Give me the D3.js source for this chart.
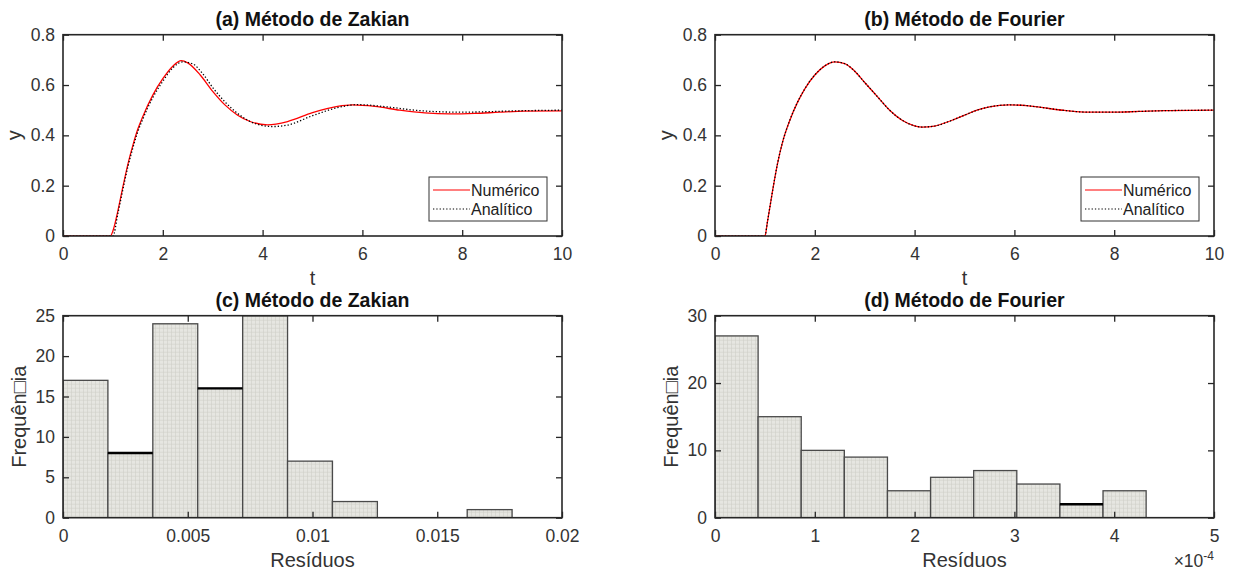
<!DOCTYPE html>
<html>
<head>
<meta charset="utf-8">
<script src="https://cdn.jsdelivr.net/npm/d3@7"></script>
<style>
  html, body { margin: 0; padding: 0; background: #fff; }
  svg { display: block; font-family: "Liberation Sans", Arial, Helvetica, sans-serif; }
</style>
</head>
<body>
<script>
// step response
const tZakianNum = [0, 0.5, 0.95, 1.0, 1.1, 1.2, 1.3, 1.4, 1.5, 1.6, 1.8, 2.0, 2.2, 2.37, 2.5, 2.75, 3.0, 3.25, 3.5, 3.75, 4.1, 4.5, 5.0, 5.5, 5.8, 6.25, 6.75, 7.25, 7.75, 8.25, 8.75, 9.25, 10];
const yZakianNum = [0, 0, 0, 0.02, 0.1, 0.195, 0.285, 0.36, 0.425, 0.475, 0.56, 0.625, 0.675, 0.697, 0.688, 0.64, 0.575, 0.52, 0.48, 0.455, 0.442, 0.455, 0.49, 0.515, 0.521, 0.515, 0.5, 0.489, 0.485, 0.487, 0.492, 0.496, 0.497];
const tZakianAna = [0, 0.5, 1.0, 1.1, 1.2, 1.3, 1.4, 1.5, 1.6, 1.8, 2.0, 2.2, 2.4, 2.6, 2.8, 3.0, 3.25, 3.5, 3.75, 4.0, 4.2, 4.5, 5.0, 5.5, 5.9, 6.5, 7.0, 7.5, 8.0, 8.5, 9.0, 10];
const yZakianAna = [0, 0, 0, 0.09, 0.185, 0.275, 0.35, 0.415, 0.465, 0.55, 0.615, 0.668, 0.692, 0.684, 0.645, 0.59, 0.532, 0.487, 0.455, 0.439, 0.435, 0.441, 0.478, 0.51, 0.522, 0.513, 0.501, 0.494, 0.492, 0.494, 0.497, 0.5];

// panel (b): both curves overlap
const tFourier = [0, 0.5, 1.0, 1.05, 1.1, 1.15, 1.25, 1.35, 1.5, 1.65, 1.8, 2.0, 2.2, 2.4, 2.6, 2.8, 3.0, 3.25, 3.5, 3.75, 4.0, 4.15, 4.4, 4.75, 5.0, 5.25, 5.5, 5.9, 6.25, 6.5, 7.0, 7.5, 8.0, 8.5, 9.0, 10];
const yFourierNum = [0, 0, 0, 0.055, 0.115, 0.175, 0.285, 0.37, 0.46, 0.53, 0.585, 0.64, 0.676, 0.692, 0.685, 0.655, 0.61, 0.555, 0.5, 0.46, 0.438, 0.433, 0.437, 0.46, 0.48, 0.5, 0.513, 0.521, 0.518, 0.512, 0.499, 0.492, 0.492, 0.495, 0.498, 0.5];
const yFourierAna = [0, 0, 0, 0.055, 0.115, 0.175, 0.285, 0.37, 0.46, 0.53, 0.585, 0.64, 0.676, 0.692, 0.685, 0.655, 0.61, 0.555, 0.5, 0.46, 0.438, 0.433, 0.437, 0.46, 0.48, 0.5, 0.513, 0.521, 0.518, 0.512, 0.499, 0.492, 0.492, 0.495, 0.498, 0.5];

// histograms
const zakianEdges = [0, 0.0018, 0.0036, 0.0054, 0.0072, 0.009, 0.0108, 0.0126, 0.0144, 0.0162, 0.018];
const zakianCounts = [17, 8, 24, 16, 25, 7, 2, 0, 0, 1];
const fourierEdges = [0, 0.432e-4, 0.864e-4, 1.296e-4, 1.728e-4, 2.16e-4, 2.592e-4, 3.024e-4, 3.456e-4, 3.888e-4, 4.32e-4];
const fourierCounts = [27, 15, 10, 9, 4, 6, 7, 5, 2, 4];

// ticks
const tTicks = [0, 2, 4, 6, 8, 10];
const yTicks = [0, 0.2, 0.4, 0.6, 0.8];
const zakianResTicks = [0, 0.005, 0.01, 0.015, 0.02];
const zakianFreqTicks = [0, 5, 10, 15, 20, 25];
const fourierResTicks = [0, 1e-4, 2e-4, 3e-4, 4e-4, 5e-4];
const fourierFreqTicks = [0, 10, 20, 30];

const legendLabels = ['Numérico', 'Analítico'];

const width = 1235, height = 571;
const ink = '#262626';
const svg = d3.select('body').append('svg').attr('width', width).attr('height', height);

let defs = svg.append('defs');
let pat = defs.append('pattern').attr('id', 'grid')
    .attr('width', 4).attr('height', 4).attr('patternUnits', 'userSpaceOnUse');
pat.append('rect').attr('width', 4).attr('height', 4).attr('fill', '#e6e6e1');
pat.append('path').attr('d', 'M0,0.3H4M0.3,0V4').attr('stroke', '#cbcbc5').attr('stroke-width', 0.7);

const pw = 499;
const panels = {
    a: {x: 63, y: 34.7, h: 201.3},
    b: {x: 715, y: 34.7, h: 201.3},
    c: {x: 63, y: 315.7, h: 202},
    d: {x: 715, y: 315.7, h: 202}
};

function fmt(d) { return String(+d.toFixed(6)); }

function frame(key, xs, ys, xticks, yticks, xfmt, title, xlabel, ylabel, ylabelOff) {
    let p = panels[key];
    let g = svg.append('g').attr('transform', 'translate(' + p.x + ',' + p.y + ')');
    defs.append('clipPath').attr('id', 'clip-' + key)
        .append('rect').attr('width', pw).attr('height', p.h);
    let plot = g.append('g').attr('clip-path', 'url(#clip-' + key + ')');
    let axes = g.append('g');

    // inward ticks on all four sides
    axes.append('g').attr('transform', 'translate(0,' + p.h + ')')
        .call(d3.axisBottom(xs).tickValues(xticks).tickSizeInner(-6).tickSizeOuter(0).tickPadding(11.5).tickFormat(xfmt));
    axes.append('g')
        .call(d3.axisTop(xs).tickValues(xticks).tickSizeInner(-6).tickSizeOuter(0).tickFormat(''));
    axes.append('g')
        .call(d3.axisLeft(ys).tickValues(yticks).tickSizeInner(-6).tickSizeOuter(0).tickPadding(8).tickFormat(fmt));
    axes.append('g').attr('transform', 'translate(' + pw + ',0)')
        .call(d3.axisRight(ys).tickValues(yticks).tickSizeInner(-6).tickSizeOuter(0).tickFormat(''));
    axes.selectAll('.domain').remove();
    axes.selectAll('.tick line').attr('stroke', ink).attr('stroke-width', 1.3);
    axes.selectAll('.tick text').attr('fill', '#333').style('font-size', '17.5px');
    axes.append('rect').attr('width', pw).attr('height', p.h)
        .attr('fill', 'none').attr('stroke', ink).attr('stroke-width', 1.6);

    g.append('text').attr('x', pw / 2).attr('y', -8.5).attr('text-anchor', 'middle')
        .style('font-size', '19.5px').style('font-weight', 'bold').attr('fill', '#111')
        .text(title);
    g.append('text').attr('x', pw / 2).attr('y', p.h + 49).attr('text-anchor', 'middle')
        .style('font-size', '20px').attr('fill', '#333').text(xlabel);
    g.append('text').attr('transform', 'translate(' + (-ylabelOff) + ',' + (p.h / 2) + ') rotate(-90)')
        .attr('text-anchor', 'middle').style('font-size', '20px').attr('fill', '#333').text(ylabel);
    return {g: g, plot: plot, p: p};
}

function responsePanel(key, title, tNum, yNum, tAna, yAna) {
    let x = d3.scaleLinear().domain([0, 10]).range([0, pw]);
    let y = d3.scaleLinear().domain([0, 0.8]).range([panels[key].h, 0]);
    let f = frame(key, x, y, tTicks, yTicks, fmt, title, 't', 'y', 42);
    let line = d3.line().x(d => x(d[0])).y(d => y(d[1])).curve(d3.curveMonotoneX);

    f.plot.append('path').datum(d3.zip(tNum, yNum))
        .attr('d', line).attr('fill', 'none').attr('stroke', '#ff0000').attr('stroke-width', 1.3);
    f.plot.append('path').datum(d3.zip(tAna, yAna))
        .attr('d', line).attr('fill', 'none').attr('stroke', '#000')
        .attr('stroke-width', 1.3).attr('stroke-dasharray', '1.3,2');

    // legend
    let bw = 118, bh = 44;
    let lg = f.g.append('g').attr('transform', 'translate(' + (pw - 15 - bw) + ',' + (f.p.h - 15 - bh) + ')');
    lg.append('rect').attr('width', bw).attr('height', bh).attr('fill', '#fff')
        .attr('stroke', '#333').attr('stroke-width', 1);
    legendLabels.forEach((lab, i) => {
        let by = 18.5 + i * 19;
        lg.append('line').attr('x1', 4).attr('x2', 41).attr('y1', by - 5.5).attr('y2', by - 5.5)
            .attr('stroke', i === 0 ? '#ff0000' : '#000').attr('stroke-width', 1.2)
            .attr('stroke-dasharray', i === 0 ? null : '1.3,2');
        lg.append('text').attr('x', 42).attr('y', by).style('font-size', '16px')
            .attr('fill', '#222').text(lab);
    });
}

function histPanel(key, title, edges, counts, xmax, xticks, yticks, xfmt, heavyTops) {
    let x = d3.scaleLinear().domain([0, xmax]).range([0, pw]);
    let y = d3.scaleLinear().domain([0, yticks[yticks.length - 1]]).range([panels[key].h, 0]);
    let bins = counts.map((c, i) => ({x0: edges[i], x1: edges[i + 1], n: c, i: i}));
    let p = panels[key];
    defs.append('clipPath').attr('id', 'bclip-' + key)
        .append('rect').attr('width', pw).attr('height', p.h);
    let f = frame(key, x, y, xticks, yticks, xfmt, title, 'Resíduos', 'Frequên\u25A1ia', 37);
    let bars = f.g.insert('g', ':first-child').attr('clip-path', 'url(#bclip-' + key + ')');
    bars.selectAll('rect').data(bins).enter().append('rect')
        .attr('x', d => x(d.x0)).attr('width', d => x(d.x1) - x(d.x0))
        .attr('y', d => y(d.n)).attr('height', d => y(0) - y(d.n))
        .attr('fill', 'url(#grid)').attr('stroke', '#4a4a4a').attr('stroke-width', 1.3);
    bars.selectAll('line').data(bins.filter(d => heavyTops.includes(d.i))).enter().append('line')
        .attr('x1', d => x(d.x0)).attr('x2', d => x(d.x1))
        .attr('y1', d => y(d.n)).attr('y2', d => y(d.n))
        .attr('stroke', '#000').attr('stroke-width', 2.4);
    return f;
}

responsePanel('a', '(a) Método de Zakian', tZakianNum, yZakianNum, tZakianAna, yZakianAna);
responsePanel('b', '(b) Método de Fourier', tFourier, yFourierNum, tFourier, yFourierAna);
histPanel('c', '(c) Método de Zakian', zakianEdges, zakianCounts, 0.02, zakianResTicks, zakianFreqTicks, fmt, [1, 3]);
let fd = histPanel('d', '(d) Método de Fourier', fourierEdges, fourierCounts, 5e-4, fourierResTicks, fourierFreqTicks, d => fmt(d * 1e4), [8]);

// exponent label
let ex = fd.g.append('text').attr('x', pw).attr('y', fd.p.h + 49).attr('text-anchor', 'end')
    .attr('fill', '#333').style('font-size', '17.5px');
ex.append('tspan').text('\u00D710');
ex.append('tspan').attr('dy', -7).style('font-size', '12px').text('-4');
</script>
</body>
</html>
